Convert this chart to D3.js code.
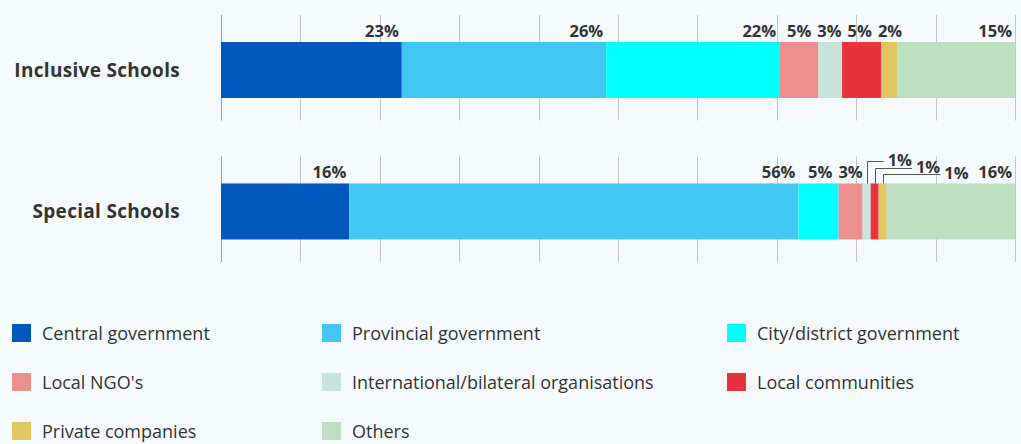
<!DOCTYPE html>
<html>
<head>
<meta charset="utf-8">
<script src="https://cdn.jsdelivr.net/npm/d3@7"></script>
<style>
  html, body { margin: 0; padding: 0; background: #f5fbfc; }
  svg { display: block; }
  text { font-family: "Open Sans", "Noto Sans", sans-serif; }
</style>
</head>
<body>
<svg id="chart" width="1021" height="444"></svg>
<script>
// Funding sources by school type (percent of respondents)
const categories = ["Inclusive Schools", "Special Schools"];
const sources = [
  "Central government", "Provincial government", "City/district government",
  "Local NGO's", "International/bilateral organisations", "Local communities",
  "Private companies", "Others"
];
const inclusiveValues = [23, 26, 22, 5, 3, 5, 2, 15];
const specialValues = [16, 56, 5, 3, 1, 1, 1, 16];
const gridTicks = [0, 10, 20, 30, 40, 50, 60, 70, 80, 90, 100];

const palette = ["#0058bc", "#42c7f4", "#00ffff", "#eb8f8f", "#c8e4dc", "#e8333f", "#e0c562", "#bce0c0"];

const rows = categories.map((c, i) => {
  const vals = i === 0 ? inclusiveValues : specialValues;
  const o = { category: c };
  sources.forEach((s, j) => { o[s] = vals[j]; });
  return o;
});

const svg = d3.select("#chart");

const x = d3.scaleLinear().domain([0, 1]).range([221, 1015]);
const xPct = d3.scaleLinear().domain([0, 100]).range([221, 1015]);
const y = d3.scaleBand().domain(categories).range([15, 262]).paddingInner(0.254).paddingOuter(0);
const color = d3.scaleOrdinal().domain(sources).range(palette);

const barOffset = 27, barH = 56;
const valueFont = 16.5;

const stacked = d3.stack().keys(sources).offset(d3.stackOffsetExpand)(rows);

// grid lines, one block per category band
const grid = svg.append("g");
categories.forEach(c => {
  grid.selectAll(null)
    .data(gridTicks)
    .join("line")
    .attr("x1", d => Math.round(xPct(d)) + 0.5)
    .attr("x2", d => Math.round(xPct(d)) + 0.5)
    .attr("y1", y(c))
    .attr("y2", y(c) + y.bandwidth())
    .attr("stroke", d => (d === 0 ? "#9c9c9c" : "#c4c4c4"))
    .attr("stroke-width", 1);
});

// stacked bars
svg.append("g")
  .selectAll("g")
  .data(stacked)
  .join("g")
  .attr("fill", d => color(d.key))
  .selectAll("rect")
  .data(d => d.map(p => ({ p, key: d.key })))
  .join("rect")
  .attr("x", d => x(d.p[0]))
  .attr("width", d => x(d.p[1]) - x(d.p[0]))
  .attr("y", d => y(d.p.data.category) + barOffset)
  .attr("height", barH);

// category labels
svg.append("g")
  .selectAll("text")
  .data(categories)
  .join("text")
  .attr("x", 180)
  .attr("y", d => y(d) + barOffset + barH / 2 + 6.5)
  .attr("text-anchor", "end")
  .attr("font-size", 19)
  .attr("font-weight", 700)
  .attr("letter-spacing", 0.3)
  .attr("fill", "#333")
  .text(d => d);

// value labels: end-aligned above each segment, overlaps resolved by clustering;
// very narrow segments get stepped leader lines instead
const labelLayer = svg.append("g");
const labelPad = 3, labelGap = 6;

categories.forEach((c, ci) => {
  const top = y(c) + barOffset;
  const segs = stacked.map(s => {
    const p = s[ci];
    return { key: s.key, value: p.data[s.key], x0: x(p[0]), x1: x(p[1]) };
  });

  const normal = segs.filter(s => s.x1 - s.x0 >= 12);
  const small = segs.filter(s => s.x1 - s.x0 < 12);

  normal.forEach(s => {
    s.node = labelLayer.append("text")
      .attr("y", top - 5)
      .attr("text-anchor", "end")
      .attr("font-size", valueFont)
      .attr("font-weight", 700)
      .attr("fill", "#333")
      .text(s.value + "%");
    s.w = s.node.node().getComputedTextLength();
    s.want = s.x1 - labelPad;
  });

  // 1D cluster merge
  let clusters = normal.map(s => ({ items: [s] }));
  const place = cl => {
    let off = 0;
    const offs = cl.items.map((s, i) => {
      if (i > 0) off += labelGap + s.w;
      return off;
    });
    cl.pos = d3.mean(cl.items, (s, i) => s.want - offs[i]);
    cl.items.forEach((s, i) => { s.end = cl.pos + offs[i]; });
  };
  clusters.forEach(place);
  let merged = true;
  while (merged) {
    merged = false;
    for (let i = 0; i < clusters.length - 1; i++) {
      const a = clusters[i], b = clusters[i + 1];
      const aEnd = a.items[a.items.length - 1].end;
      const bStart = b.items[0].end - b.items[0].w;
      if (bStart < aEnd + labelGap) {
        const m = { items: a.items.concat(b.items) };
        place(m);
        clusters.splice(i, 2, m);
        merged = true;
        break;
      }
    }
  }
  normal.forEach(s => s.node.attr("x", Math.min(s.end, 1015)));

  // stepped leader-line labels
  let cursor = null;
  small.forEach((s, i) => {
    const cx = (s.x0 + s.x1) / 2;
    const ly = top - 22 + 6.5 * i;
    const t = labelLayer.append("text")
      .attr("font-size", valueFont)
      .attr("font-weight", 700)
      .attr("fill", "#333")
      .text(s.value + "%");
    const w = t.node().getComputedTextLength();
    const start = cursor === null ? cx + 21 : cursor + 4;
    t.attr("x", start).attr("y", ly + 5);
    cursor = start + w;
    labelLayer.append("path")
      .attr("d", `M${Math.round(cx) + 0.5},${top}V${Math.round(ly) + 0.5}H${start - 4}`)
      .attr("fill", "none")
      .attr("stroke", "#555")
      .attr("stroke-width", 1);
  });
});

// legend, three columns
const legendCols = [12, 322, 727];
const legend = svg.append("g")
  .selectAll("g")
  .data(sources)
  .join("g")
  .attr("transform", (d, i) => `translate(${legendCols[i % 3]},${324 + Math.floor(i / 3) * 49})`);
legend.append("rect")
  .attr("width", 19)
  .attr("height", 18)
  .attr("fill", d => color(d));
legend.append("text")
  .attr("x", 30)
  .attr("y", 15.5)
  .attr("font-size", 18)
  .attr("fill", "#333")
  .text(d => d);
</script>
</body>
</html>
